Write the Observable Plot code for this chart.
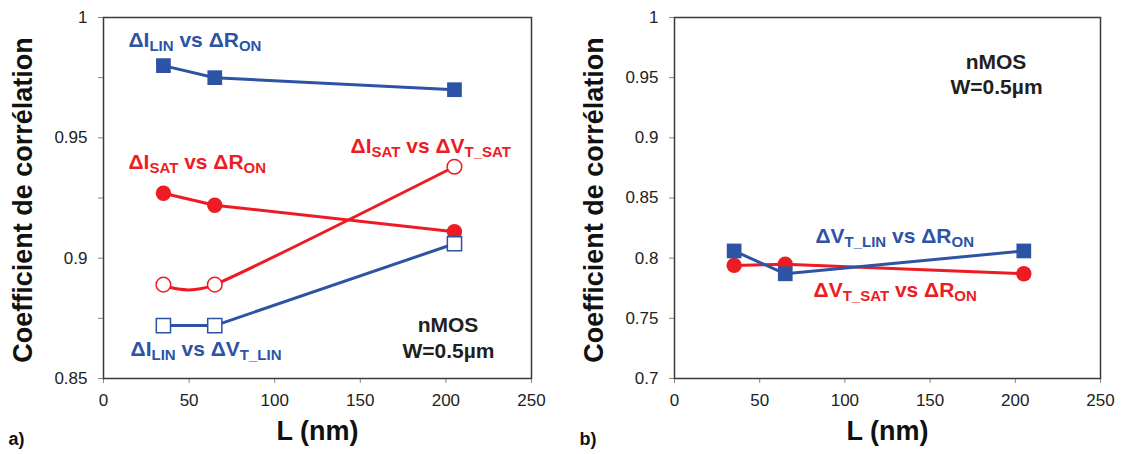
<!DOCTYPE html>
<html><head><meta charset="utf-8">
<script src="https://cdn.jsdelivr.net/npm/d3@7"></script>
<script src="https://cdn.jsdelivr.net/npm/@observablehq/plot@0.6"></script>
<style>
html,body{margin:0;padding:0;background:#fff;}
#wrap{display:flex;width:1121px;height:454px;}
svg{overflow:visible}
</style></head><body><div id="wrap"></div>
<script>
// ---- data ----
const L_nm = [35, 65, 205];
// panel a
const a_ILIN_RON   = [0.980, 0.975, 0.970];
const a_ISAT_RON   = [0.927, 0.922, 0.911];
const a_ISAT_VTSAT = [0.889, 0.889, 0.938];
const a_ILIN_VTLIN = [0.872, 0.872, 0.906];
// panel b
const b_VTSAT_RON  = [0.794, 0.795, 0.787];
const b_VTLIN_RON  = [0.806, 0.787, 0.806];
// ticks
const xTicks  = [0, 50, 100, 150, 200, 250];
const yTicksA = [0.85, 0.9, 0.95, 1];
const yMinorA = [0.875, 0.925, 0.975];
const yTicksB = [0.7, 0.75, 0.8, 0.85, 0.9, 0.95, 1];
// labels
const labelsA = [
  {text: "ΔI_{LIN} vs ΔR_{ON}",    x: 14.6,  y: 0.9904, color: "blue", anchor: "start"},
  {text: "ΔI_{SAT} vs ΔR_{ON}",    x: 14.6,  y: 0.9400, color: "red",  anchor: "start"},
  {text: "ΔI_{SAT} vs ΔV_{T_SAT}", x: 144.3, y: 0.9466, color: "red",  anchor: "start"},
  {text: "ΔI_{LIN} vs ΔV_{T_LIN}", x: 15.8,  y: 0.8621, color: "blue", anchor: "start"},
  {text: "nMOS",     x: 201.2, y: 0.8722, color: "black", anchor: "middle"},
  {text: "W=0.5µm",  x: 201.5, y: 0.8612, color: "black", anchor: "middle"}
];
const labelsB = [
  {text: "ΔV_{T_LIN} vs ΔR_{ON}", x: 82.7, y: 0.8184, color: "blue", anchor: "start"},
  {text: "ΔV_{T_SAT} vs ΔR_{ON}", x: 81.6, y: 0.7736, color: "red",  anchor: "start"},
  {text: "nMOS",     x: 188.7, y: 0.9630, color: "black", anchor: "middle"},
  {text: "W=0.5µm",  x: 189.0, y: 0.9418, color: "black", anchor: "middle"}
];
const xTitle = "L (nm)";
const yTitle = "Coefficient de corrélation";

const COLORS = {blue: "#2D53A5", red: "#ED1C24", black: "#231F20"};
const rows = vals => L_nm.map((L, i) => ({L, v: vals[i]}));

function panel({width, marginLeft, marginRight, yDomain, yTicks, yMinor, series, labels, tag}) {
  const marks = [];
  marks.push(Plot.axisX(xTicks, {tickSize: 5, tickPadding: 10, fontSize: 17, stroke: "#888", fill: "#222", label: null}));
  marks.push(Plot.axisY(yTicks, {tickSize: 5, tickPadding: 11, fontSize: 17, stroke: "#888", fill: "#222", label: null, tickFormat: d => String(d)}));
  if (yMinor) marks.push(Plot.axisY(yMinor, {tickSize: 5, tickFormat: () => "", stroke: "#888", label: null}));
  marks.push(Plot.frame({stroke: "#3a3a3a", strokeWidth: 1.5}));
  for (const s of series) {
    const c = COLORS[s.color];
    marks.push(Plot.line(rows(s.values), {x: "L", y: "v", stroke: c, strokeWidth: 3,
      curve: s.curve || "linear", tension: s.tension}));
    marks.push(Plot.dot(rows(s.values), {
      x: "L", y: "v", symbol: s.symbol,
      r: s.symbol === "square" ? (s.hollow ? 8 : 8.3) : (s.hollow ? 7.3 : 7.7),
      fill: s.hollow ? "white" : c, stroke: c, strokeWidth: s.hollow ? 1.5 : 0
    }));
  }
  for (const a of labels) {
    marks.push(Plot.text([a], {x: "x", y: "y", text: "text", textAnchor: a.anchor,
      fill: COLORS[a.color], fontSize: 21, fontWeight: "bold"}));
  }
  marks.push(Plot.text([xTitle], {text: d => d, frameAnchor: "bottom", textAnchor: "middle", dy: 61, fontSize: 27, fontWeight: "bold", fill: "#111"}));
  marks.push(Plot.text([yTitle], {text: d => d, frameAnchor: "left", textAnchor: "middle", dx: -80, dy: 2, rotate: -90, fontSize: 27, fontWeight: "bold", fill: "#111"}));
  marks.push(Plot.text([tag], {text: d => d, frameAnchor: "bottom-left", textAnchor: "start", dx: -95, dy: 66, fontSize: 18, fontWeight: "bold", fill: "#111"}));
  const svg = Plot.plot({
    width, height: 454, marginTop: 17, marginBottom: 76, marginLeft, marginRight,
    x: {domain: [0, 250], axis: null},
    y: {domain: yDomain, axis: null},
    style: {fontFamily: "'Liberation Sans', Arial, sans-serif", fontSize: "17px", color: "#222", background: "white", overflow: "visible"},
    marks
  });
  applySubs(svg);
  return svg;
}

function applySubs(svg) {
  d3.select(svg).selectAll("text").each(function() {
    const s = this.textContent;
    if (!s.includes("_{")) return;
    const parts = s.split(/(_\{[^}]*\})/).filter(p => p);
    const t = d3.select(this);
    t.text(null);
    let shifted = false;
    for (const p of parts) {
      const sub = p.startsWith("_{");
      const ts = t.append("tspan").text(sub ? p.slice(2, -1) : p);
      if (sub) { ts.attr("font-size", 15); if (!shifted) ts.attr("dy", 4); shifted = true; }
      else if (shifted) { ts.attr("dy", -4); shifted = false; }
    }
  });
}

const wrap = document.getElementById("wrap");
wrap.appendChild(panel({
  width: 560, marginLeft: 103, marginRight: 29, yDomain: [0.85, 1], yTicks: yTicksA, yMinor: yMinorA, tag: "a)",
  series: [
    {values: a_ILIN_RON, color: "blue", symbol: "square"},
    {values: a_ISAT_RON, color: "red", symbol: "circle"},
    {values: a_ISAT_VTSAT, color: "red", symbol: "circle", hollow: true, curve: "cardinal", tension: 0.4},
    {values: a_ILIN_VTLIN, color: "blue", symbol: "square", hollow: true}
  ],
  labels: labelsA
}));
wrap.appendChild(panel({
  width: 561, marginLeft: 114, marginRight: 21, yDomain: [0.7, 1], yTicks: yTicksB, yMinor: null, tag: "b)",
  series: [
    {values: b_VTSAT_RON, color: "red", symbol: "circle"},
    {values: b_VTLIN_RON, color: "blue", symbol: "square"}
  ],
  labels: labelsB
}));
</script></body></html>
